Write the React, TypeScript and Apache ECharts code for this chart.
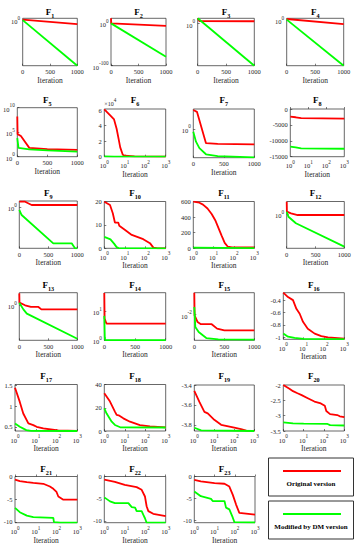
import React, { useEffect, useRef } from 'react';
import * as echarts from 'echarts';

// ---------- data (iteration, best fitness) ----------
const f1Red = [[0, 1e2], [1000, 1e-18]];
const f1Green = [[0, 1], [1000, 1e-200]];
const f2Red = [[0, 1e12], [5, 1], [1000, 1e-6]];
const f2Green = [[0, 1], [1000, 1e-79]];
const f3Red = [[0, 1e25], [30, 1e12], [1000, 1e11]];
const f3Green = [[0, 1e25], [1000, 1e-200]];
const f4Red = [[0, 1e5], [1000, 1e-18]];
const f4Green = [[0, 1e2], [1000, 1e-200]];
const f5Red = [[0, 1.6e8], [5, 4e4], [60, 1.6e4], [200, 63], [500, 35], [1000, 25]];
const f5Green = [[0, 6e3], [20, 63], [200, 32], [500, 20], [1000, 11]];
const f6Red = [[1, 61000], [2, 53000], [3, 48000], [4, 36000], [5, 23000], [6, 12000], [8, 2500], [10, 1200], [30, 500], [1000, 100]];
const f6Green = [[1, 300], [3, 100], [1000, 10]];
const f7Red = [[0, 3.5], [60, 3.1], [141, 1.0], [208, 0.39], [400, 0.37], [1000, 0.36]];
const f7Green = [[0, 0.83], [44, 0.43], [100, 0.28], [208, 0.187], [400, 0.165], [1000, 0.152]];
const f8Red = [[1, -2400], [2, -2600], [4, -2900], [1000, -3000]];
const f8Green = [[1, -11800], [2, -12100], [4, -12400], [1000, -12500]];
const f9Red = [[0, 80], [100, 80], [213, 6], [1000, 6]];
const f9Green = [[0, 0.12], [40, 2.3e-3], [586, 5e-13], [903, 5e-13], [960, 1e-14], [1000, 1e-14]];
const f10Red = [[1, 19.9], [1.9, 18.5], [2.6, 15], [3.3, 11], [4.8, 11], [5.4, 9.6], [10, 7.9], [22, 5.7], [80, 3.9], [170, 2.2], [250, 0.3], [400, 0], [1000, 0]];
const f10Green = [[1, 4.9], [2, 3.8], [3, 2], [4, 0.5], [5, 0.1], [1000, 0]];
const f11Red = [[1, 598], [2, 585], [3, 560], [5, 510], [8, 440], [12, 360], [18, 250], [25, 160], [35, 70], [50, 20], [80, 12], [1000, 10]];
const f11Green = [[1, 8], [1000, 3]];
const f12Red = [[0, 4000], [3, 4.7], [75, 1.6], [190, 0.51], [1000, 0.51]];
const f12Green = [[0, 4.7], [30, 0.16], [160, 2e-3], [1000, 3.2e-10]];
const f13Red = [[0, 3e7], [3, 40], [100, 0.9], [200, 0.08], [330, 0.08], [380, 2.5e-3], [1000, 2.5e-3]];
const f13Green = [[0, 40], [70, 2.5e-3], [130, 5e-6], [1000, 8e-22]];
const f14Red = [[0, 43], [5, 5.6], [30, 4], [40, 3.7], [1000, 3.7]];
const f14Green = [[0, 6.9], [8, 1.26], [15, 0.998], [1000, 0.998]];
const f15Red = [[0, 0.3], [5, 9.1e-3], [55, 3.2e-3], [110, 2.3e-3], [290, 2.3e-3], [380, 1.15e-3], [500, 8.9e-4], [1000, 8.9e-4]];
const f15Green = [[0, 0.033], [17, 1.5e-3], [73, 6.9e-4], [200, 2.7e-4], [400, 2.2e-4], [1000, 2.1e-4]];
const f16Red = [[1, -0.28], [1.7, -0.35], [3, -0.4], [4.4, -0.54], [6.4, -0.62], [9.3, -0.75], [16, -0.86], [35, -0.94], [74, -0.98], [158, -1.0], [1000, -1.02]];
const f16Green = [[1, -0.94], [1.7, -0.99], [3.6, -1.01], [10, -1.025], [1000, -1.03]];
const f17Red = [[1, 1.44], [1.7, 1.1], [2.5, 0.82], [4.4, 0.58], [7.6, 0.54], [11, 0.5], [23, 0.46], [120, 0.41], [1000, 0.4]];
const f17Green = [[1, 0.58], [1.7, 0.5], [3.5, 0.42], [6, 0.4], [1000, 0.398]];
const f18Red = [[1, 32.5], [1.9, 25.3], [3.3, 16.7], [4, 13.8], [5, 13.5], [8.5, 10.9], [18, 8], [55, 5.1], [170, 4], [1000, 3.2]];
const f18Green = [[1, 19.5], [1.3, 15], [2.3, 8], [3.3, 5.2], [6, 3.2], [1000, 3.0]];
const f19Red = [[1, -3.46], [1.8, -3.57], [3.2, -3.67], [4.7, -3.685], [10, -3.75], [22, -3.8], [100, -3.83], [215, -3.845], [400, -3.86], [1000, -3.862]];
const f19Green = [[1, -3.83], [2.2, -3.856], [1000, -3.8628]];
const f20Red = [[1, -2.0], [2, -2.12], [3, -2.2], [5, -2.27], [8, -2.33], [16, -2.43], [34, -2.54], [70, -2.6], [110, -2.68], [130, -2.85], [200, -2.95], [450, -2.98], [600, -3.02], [1000, -3.05]];
const f20Green = [[1, -3.22], [3, -3.25], [10, -3.26], [150, -3.27], [200, -3.31], [1000, -3.32]];
const f21Red = [[1, -0.7], [1.7, -1.0], [3.7, -1.25], [7.6, -1.4], [23, -1.6], [48, -2.2], [70, -2.7], [100, -3.4], [122, -4.4], [213, -5.1], [1000, -5.1]];
const f21Green = [[1, -6.9], [1.7, -7.85], [3.7, -8.6], [7.6, -8.95], [70, -9.1], [75, -10.05], [150, -10.15], [1000, -10.153]];
const f22Red = [[1, -0.7], [3.3, -1.2], [10, -1.9], [38, -2.4], [67, -3.0], [97, -4.5], [117, -6.7], [142, -7.8], [246, -8.4], [1000, -8.9]];
const f22Green = [[1, -4.7], [1.9, -5.6], [3.3, -6.0], [15, -6.0], [22, -6.9], [32, -7.0], [38, -7.8], [67, -7.8], [80, -8.6], [97, -9.4], [117, -10.4], [1000, -10.4]];
const f23Red = [[1, -0.75], [2.1, -1.1], [10, -1.5], [31, -1.65], [54, -2.3], [80, -4.2], [116, -6.4], [168, -8.3], [1000, -8.7]];
const f23Green = [[1, -3.4], [2.1, -4.5], [6.7, -5.1], [8.1, -5.6], [31, -5.6], [37, -7.1], [54, -7.5], [80, -9.4], [96, -10.4], [1000, -10.5]];

const redSeries = [f1Red, f2Red, f3Red, f4Red, f5Red, f6Red, f7Red, f8Red, f9Red, f10Red, f11Red, f12Red, f13Red, f14Red, f15Red, f16Red, f17Red, f18Red, f19Red, f20Red, f21Red, f22Red, f23Red];
const greenSeries = [f1Green, f2Green, f3Green, f4Green, f5Green, f6Green, f7Green, f8Green, f9Green, f10Green, f11Green, f12Green, f13Green, f14Green, f15Green, f16Green, f17Green, f18Green, f19Green, f20Green, f21Green, f22Green, f23Green];

const panelNumbers = ['1', '2', '3', '4', '5', '6', '7', '8', '9', '10', '11', '12', '13', '14', '15', '16', '17', '18', '19', '20', '21', '22', '23'];
const xLog = [false, false, false, false, false, true, false, true, false, true, true, false, false, false, false, true, true, true, true, true, true, true, true];
const yLog = [true, true, true, true, true, false, true, false, true, false, false, true, true, true, true, false, false, false, false, false, false, false, false];
const yRanges = [
  [1e-200, 1e8], [0.9e-100, 1e12], [1e-200, 1e25], [1e-200, 1e8],
  [0.99, 1.01e10], [0, 61500], [0.149, 3.75], [-15000, 0],
  [1e-14, 141], [0, 20], [0, 600], [1e-10, 4467],
  [7.9e-23, 7.9e7], [0.985, 43.7], [1.9e-4, 0.302], [-1.0316, -0.28],
  [0.398, 1.52], [0, 40], [-3.8628, -3.4], [-3.5, -2],
  [-10.16, 0], [-10.4, 0], [-10.54, 0],
];
const yTickValues = [
  [1], [1e-100, 1], [1], [1],
  [1, 1e5, 1e10], [0, 20000, 40000, 60000], [1], [-15000, -10000, -5000, 0],
  [1], [0, 10, 20], [0, 200, 400, 600], [1],
  [1], [1, 10], [0.01], [-1, -0.8, -0.6, -0.4],
  [0.5, 1, 1.5], [0, 20, 40], [-3.8, -3.6, -3.4], [-3.5, -3, -2.5, -2],
  [-10, -5, 0], [-10, -5, 0], [-10, -5, 0],
];
const linIterRange = [0, 1000];
const linIterTicks = [0, 500, 1000];
const logIterRange = [1, 1000];
const logIterTicks = [1, 10, 100, 1000];
const legendNames = ['Original version', 'Modified by DM version'];

// ---------- layout (px boxes: left, top, right, bottom) ----------
const boxes = [
  [22.7, 18.3, 77.3, 65.7], [111, 18.3, 166, 65.7], [197.7, 18.3, 254.3, 65.7], [286.7, 18.3, 343.7, 65.7],
  [17.3, 107.7, 77.3, 156.7], [104.3, 109, 165.7, 156.7], [193.3, 109, 254.3, 157.7], [290.3, 109, 344.3, 156.7],
  [19.3, 201, 77.3, 248.3], [104.3, 201.5, 165.7, 248.3], [193.3, 201.5, 254.3, 248.3], [286.7, 201.5, 344.3, 248.3],
  [19.3, 292.7, 77.3, 340.3], [104.3, 292.7, 165.7, 340.3], [194.3, 292.7, 254.3, 340.3], [283.3, 292.7, 344.3, 339.3],
  [15, 384.5, 77.3, 431], [104.3, 384.5, 165.7, 431], [194.3, 385, 254.3, 431], [283.3, 385, 344.3, 431],
  [15, 476.5, 77.3, 522.7], [104.3, 476.5, 165.7, 522.7], [194.3, 476.5, 255, 522.7],
];
const titleRowY = [12.5, 100.5, 193.5, 285.5, 377, 470];

const FONT = '"Liberation Serif", "Times New Roman", serif';
const TXT = '#262626';
const RED = '#ff0000';
const GREEN = '#00ff00';

const supRich = {
  b: { fontSize: 6.5, fontFamily: FONT, color: TXT, lineHeight: 10, verticalAlign: 'bottom' },
  p: { fontSize: 5.2, fontFamily: FONT, color: TXT, lineHeight: 6, verticalAlign: 'top' },
};

const powLabel = (v: number) => `{b|10}{p|${Math.round(Math.log10(v))}}`;

export default function App() {
  const ref = useRef<HTMLDivElement>(null);
  useEffect(() => {
    if (!ref.current) return;
    const chart = echarts.init(ref.current, undefined, { renderer: 'svg' });
    const grid: any[] = [];
    const xAxis: any[] = [];
    const yAxis: any[] = [];
    const series: any[] = [];
    const graphic: any[] = [];

    boxes.forEach((b, i) => {
      const [l, t, r, bt] = b;
      grid.push({
        left: l, top: t, width: r - l, height: bt - t,
        show: true, borderColor: TXT, borderWidth: 0.7, backgroundColor: '#fff',
      });
      const xl = xLog[i];
      const xr = xl ? logIterRange : linIterRange;
      const xt = xl ? logIterTicks : linIterTicks;
      xAxis.push({
        gridIndex: i, type: xl ? 'log' : 'value', logBase: 10,
        min: xr[0], max: xr[1],
        axisLine: { show: false }, splitLine: { show: false },
        axisTick: { show: true, inside: true, length: 2, customValues: xt, lineStyle: { color: TXT, width: 0.6 } },
        axisLabel: {
          customValues: xt, margin: 2.5, fontSize: 6.5, fontFamily: FONT, color: TXT,
          formatter: (v: number) => (xl ? powLabel(v) : String(v)), rich: supRich,
        },
        name: 'Iteration', nameLocation: 'middle', nameGap: 10.5,
        nameTextStyle: { fontSize: 7.5, fontFamily: FONT, color: TXT },
      });
      const yl = yLog[i];
      const yr = yRanges[i];
      const yt = yTickValues[i];
      const isF6 = i === 5;
      yAxis.push({
        gridIndex: i, type: yl ? 'log' : 'value', logBase: 10,
        min: yr[0], max: yr[1],
        axisLine: { show: false }, splitLine: { show: false },
        axisTick: { show: true, inside: true, length: 2, customValues: yt, lineStyle: { color: TXT, width: 0.6 } },
        axisLabel: {
          customValues: yt, margin: 2.5, fontSize: 6.5, fontFamily: FONT, color: TXT,
          formatter: (v: number) => (yl ? powLabel(v) : isF6 ? String(Math.round(v / 1e4)) : String(v)),
          rich: supRich,
        },
        name: isF6 ? '{t|×10}{p|4}' : '',
        nameLocation: 'end', nameGap: 2,
        nameTextStyle: {
          align: 'left', fontSize: 6, fontFamily: FONT, color: TXT,
          rich: { t: { fontSize: 6, fontFamily: FONT, color: TXT, lineHeight: 9, verticalAlign: 'bottom' }, p: supRich.p },
        },
      });
      series.push({
        type: 'line', name: legendNames[0], xAxisIndex: i, yAxisIndex: i, data: redSeries[i],
        showSymbol: false, symbol: 'none', silent: true, z: 2,
        lineStyle: { color: RED, width: 1.8 }, itemStyle: { color: RED },
      });
      series.push({
        type: 'line', name: legendNames[1], xAxisIndex: i, yAxisIndex: i, data: greenSeries[i],
        showSymbol: false, symbol: 'none', silent: true, z: 3,
        lineStyle: { color: GREEN, width: 1.8 }, itemStyle: { color: GREEN },
      });
      graphic.push({
        type: 'text', x: (l + r) / 2, y: titleRowY[Math.floor(i / 4)],
        style: {
          text: `{f|F}{s|${panelNumbers[i]}}`, fill: '#000',
          align: 'center', verticalAlign: 'middle', textAlign: 'center', textVerticalAlign: 'middle',
          rich: {
            f: { fontSize: 9, fontWeight: 'bold', fontFamily: FONT, lineHeight: 11, verticalAlign: 'top', fill: '#000' },
            s: { fontSize: 6.2, fontWeight: 'bold', fontFamily: FONT, lineHeight: 6.5, verticalAlign: 'bottom', fill: '#000' },
          },
        },
      });
    });

    // legend boxes
    const boxL = 268.5, boxW = 85;
    [[458, RED, legendNames[0]], [501, GREEN, legendNames[1]]].forEach(([top, col, label]) => {
      const y0 = top as number;
      graphic.push({ type: 'rect', shape: { x: boxL, y: y0, width: boxW, height: 38 }, style: { fill: '#fff', stroke: '#333', lineWidth: 1 } });
      graphic.push({ type: 'line', shape: { x1: 283, y1: y0 + 13, x2: 341, y2: y0 + 13 }, style: { stroke: col as string, lineWidth: 2 } });
      graphic.push({
        type: 'text', x: boxL + boxW / 2, y: y0 + 26,
        style: {
          text: label as string, fill: '#000', fontSize: 7, fontWeight: 'bold', fontFamily: FONT,
          align: 'center', verticalAlign: 'middle', textAlign: 'center', textVerticalAlign: 'middle',
        },
      });
    });

    chart.setOption({ animation: false, backgroundColor: '#fff', grid, xAxis, yAxis, series, graphic });
    return () => chart.dispose();
  }, []);
  return <div ref={ref} style={{ position: 'absolute', left: 0, top: 0, width: 363, height: 550 }} />;
}
